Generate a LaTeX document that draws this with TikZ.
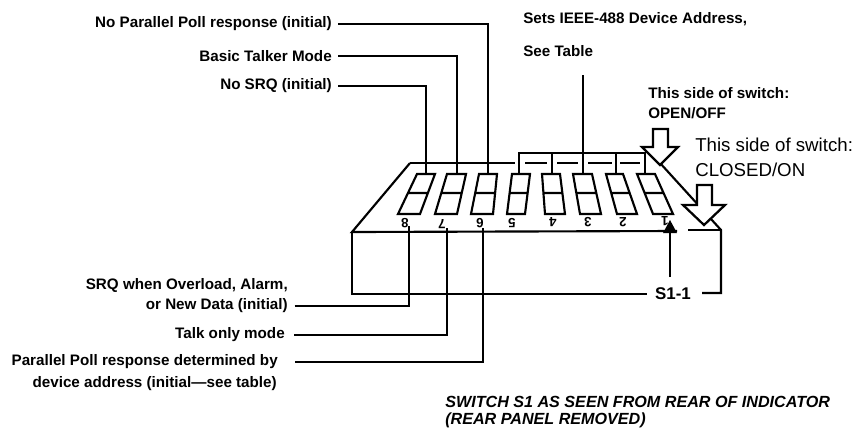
\documentclass[tikz,border=0pt]{standalone}
\usepackage{fontspec}
\setmainfont{Liberation Sans}
\tikzset{
	lbl/.style={inner sep=0pt,font=\bfseries\fontsize{11.4}{13}\selectfont},
	lblwide/.style={inner sep=0pt,font=\fontsize{14}{16}\selectfont},
	lblcap/.style={inner sep=0pt,anchor=west,font=\bfseries\itshape\fontsize{12.1}{14}\selectfont},
	digit/.style={inner sep=0pt,rotate=180,font=\bfseries\fontsize{10}{11}\selectfont},
	ln/.style={line width=1.6pt,line join=miter},
	leader/.style={line width=1.5pt},
	bigarrow/.style={line width=1.7pt,fill=white}
}
\begin{document}
\begin{tikzpicture}[x=0.75pt,y=-0.75pt]
	\useasboundingbox (0,0) rectangle (855,429);

	% Housing
	\draw[ln] (352,232) -- (352,294) -- (647,294);
	\draw[ln] (702,293) -- (721,293) -- (721,230) -- (660,163);
	\draw[ln] (410,163) -- (352,232) -- (677,231);
	\draw[ln] (688,230) -- (721,230);
	\draw[ln] (410,163) -- (515,163);
	\draw[ln] (525,163) -- (547,163);
	\draw[ln] (557,163) -- (578,163);
	\draw[ln] (588,163) -- (612,163);
	\draw[ln] (620,163) -- (640,163);

	% Switches
	\draw[ln] (417,174) -- (435,174) -- (420,214) -- (398,214) -- cycle (408,193) -- (428,193);
	\draw[ln] (447,174) -- (466,174) -- (457,214) -- (435,214) -- cycle (442,193) -- (462,193);
	\draw[ln] (479,174) -- (497,174) -- (493,214) -- (471,214) -- cycle (475,193) -- (495,193);
	\draw[ln] (512,174) -- (530,174) -- (525,214) -- (507,214) -- cycle (510,193) -- (528,193);
	\draw[ln] (542,174) -- (560,174) -- (565,214) -- (545,214) -- cycle (544,193) -- (562,193);
	\draw[ln] (573,174) -- (592,174) -- (601,214) -- (580,214) -- cycle (576,193) -- (596,193);
	\draw[ln] (606,174) -- (623,174) -- (637,214) -- (617,214) -- cycle (611,193) -- (630,193);
	\draw[ln] (637,174) -- (655,174) -- (673,214) -- (653,214) -- cycle (645,193) -- (664,193);
	\node[digit] (digit8) at (405,223) {8};
	\node[digit] (digit7) at (442,224) {7};
	\node[digit] (digit6) at (480,223) {6};
	\node[digit] (digit5) at (512,223) {5};
	\node[digit] (digit4) at (553,222) {4};
	\node[digit] (digit3) at (588,222) {3};
	\node[digit] (digit2) at (623,222) {2};
	\node[digit] (digit1) at (665,221) {1};

	% Labels + Leaders, top
	\coordinate (top8) at (426,174);
	\coordinate (top7) at (457,174);
	\coordinate (top6) at (488,174);
	\node[lbl,anchor=east] (noparallel) at (332,24) {No Parallel Poll response (initial)};
	\node[lbl,anchor=east] (basictalker) at (332,56) {Basic Talker Mode};
	\node[lbl,anchor=east] (nosrq) at (332,86) {No SRQ (initial)};
	\draw[leader] ([xshift=4.5pt]noparallel.east) -| (top6);
	\draw[leader] ([xshift=4.5pt]basictalker.east) -| (top7);
	\draw[leader] ([xshift=4.5pt]nosrq.east) -| (top8);

	% Device address bracket
	\node[lbl,anchor=west] (setsaddr) at (523,19) {Sets IEEE-488 Device Address,};
	\node[lbl,anchor=west] (seetable) at (523,51) {See Table};
	\coordinate (addrtop) at (583,75);
	\coordinate (addrmid) at (583,153);
	\coordinate (top5) at (519,174);
	\coordinate (top4) at (552,174);
	\coordinate (top3) at (583,174);
	\coordinate (top2) at (616,174);
	\coordinate (top1) at (645,174);
	\draw[leader] (addrtop) -- (top3);
	\draw[leader] (top5) |- (addrmid) -| (top1);
	\draw[leader] (top4) -- (top4 |- addrmid);
	\draw[leader] (top2) -- (top2 |- addrmid);

	% Labels + Leaders, bottom
	\coordinate (bot8) at (409,226);
	\coordinate (bot7) at (447,228);
	\coordinate (bot6) at (483,228);
	\node[lbl,anchor=east] (srqwhen) at (288,285) {SRQ when Overload, Alarm,};
	\node[lbl,anchor=east] (newdata) at (288,306) {or New Data (initial)};
	\node[lbl,anchor=east] (talkonly) at (285,335) {Talk only mode};
	\node[lbl,anchor=east] (parallelpoll) at (278,362) {Parallel Poll response determined by};
	\node[lbl,anchor=east] (devaddr) at (277,384) {device address (initial---see table)};
	\draw[leader] ([xshift=5pt]newdata.east) -| (bot8);
	\draw[leader] ([xshift=7pt]talkonly.east) -| (bot7);
	\draw[leader] ([xshift=13pt]parallelpoll.east) -| (bot6);

	% S1-1
	\node[inner sep=0pt,font=\fontsize{12.7}{14}\selectfont\bfseries] (sone) at (673,294) {S1-1};
	\coordinate (sonetip) at (670,220);
	\draw[leader] (670,277) -- (670,233);
	\fill (sonetip) -- (677,233) -- (663,233) -- cycle;

	% Open + closed arrows
	\draw[bigarrow] (653,129) -- (668,129) -- (668,147) -- (678,147) -- (660,165) -- (642,147) -- (653,147) -- cycle;
	\draw[bigarrow] (697,185) -- (712,185) -- (712,205) -- (725,205) -- (704,225) -- (683,205) -- (697,205) -- cycle;
	\node[lbl,anchor=west] (opena) at (648,93) {This side of switch:};
	\node[lbl,anchor=west] (openb) at (648,113) {OPEN/OFF};
	\node[lblwide,anchor=west] (closeda) at (695,145) {This side of switch:};
	\node[lblwide,anchor=west] (closedb) at (695,170) {CLOSED/ON};

	% Caption
	\node[lblcap] (captiona) at (445,402) {SWITCH S1 AS SEEN FROM REAR OF INDICATOR};
	\node[lblcap] (captionb) at (445,420) {(REAR PANEL REMOVED)};
\end{tikzpicture}
\end{document}
